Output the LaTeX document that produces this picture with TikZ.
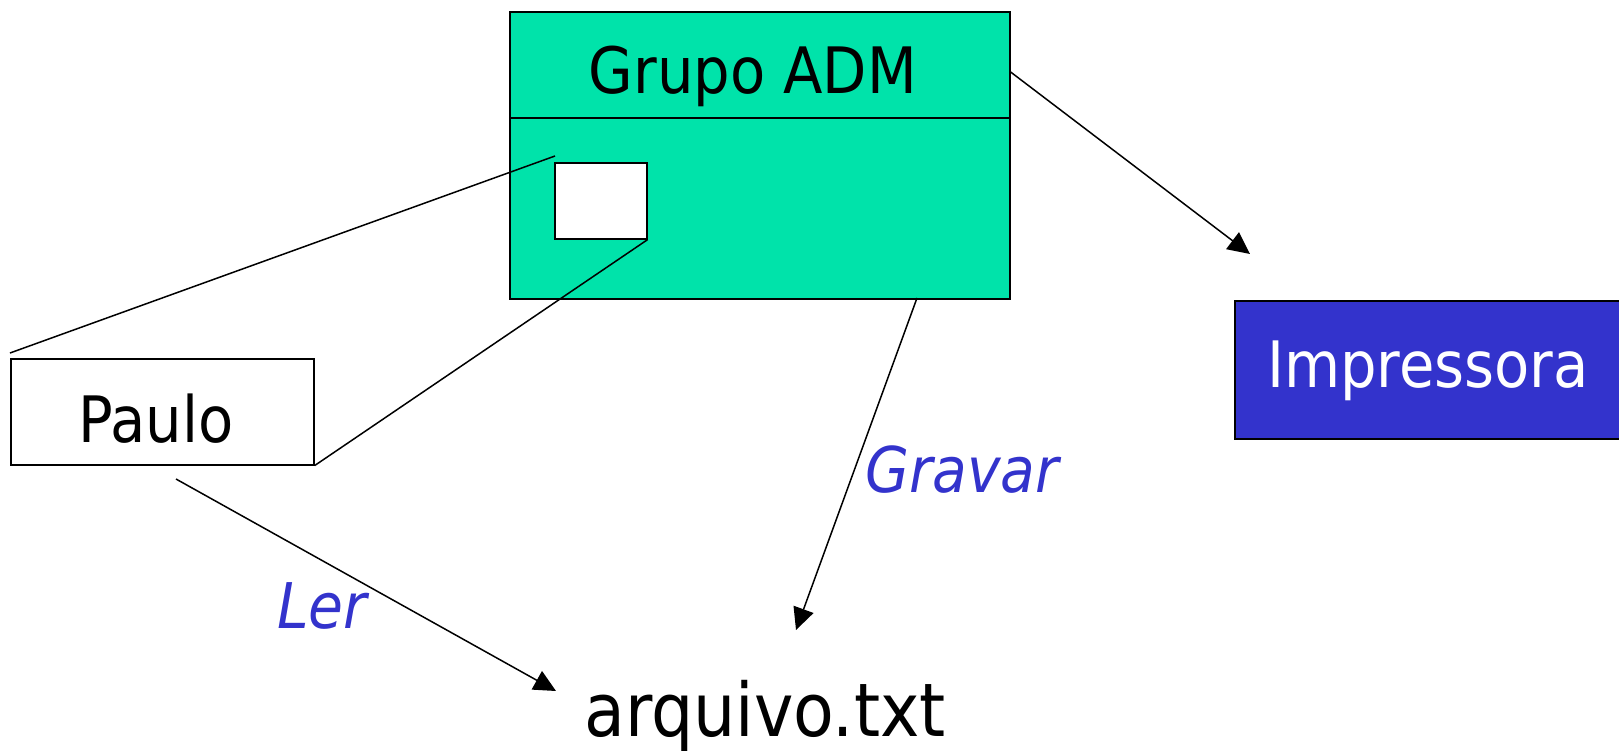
\documentclass[tikz,border=0pt]{standalone}
\usepackage{fontspec}
\setmainfont{DejaVu Sans Condensed}
\usetikzlibrary{arrows.meta}
\definecolor{admgreen}{RGB}{0,227,170}
\definecolor{prblue}{RGB}{51,51,204}
\tikzset{
  box/.style={draw=black, line width=1.6pt, inner sep=0pt, anchor=north west},
  txt/.style={inner sep=0pt, anchor=base, font=\fontsize{64}{70}\selectfont},
  lbl/.style={inner sep=0pt, anchor=base, text=prblue, font=\fontsize{63}{70}\selectfont\itshape},
  conn/.style={draw=black, line width=1.5pt},
  arr/.style={conn, -{Triangle[length=22pt,width=21pt]}}
}
\begin{document}
\begin{tikzpicture}[x=1pt,y=-1pt]
\useasboundingbox (0,0) rectangle (1619,751);
% boxes
\node[box, fill=admgreen, minimum width=500pt, minimum height=106pt] (head) at (509,11) {};
\node[box, fill=admgreen, minimum width=500pt, minimum height=181pt] (body) at (509,117) {};
\node[box, fill=white, minimum width=92pt, minimum height=76pt] (sq) at (554,162) {};
\node[box, fill=white, minimum width=303pt, minimum height=106pt] (paulo) at (10,358) {};
\node[box, fill=prblue, minimum width=385pt, minimum height=138pt] (impr) at (1234,300) {};
% texts
\node[txt] (headt) at (753,94) {Grupo ADM};
\node[txt] (paulot) at (156,442) {Paulo};
\node[txt, text=white] (imprt) at (1428,387) {Impressora};
\node[txt, font=\fontsize{74}{80}\selectfont] (arq) at (765,736) {arquivo.txt};
\node[lbl] (gravar) at (962,492) {Gravar};
\node[lbl] (ler) at (322,628) {Ler};
% zoom lines
\coordinate (p1) at (10,353);
\coordinate (s1) at (555,156);
\draw[conn] (p1) -- (s1);
\draw[conn] (paulo.south east) -- (sq.south east);
% arrows
\coordinate (impin) at (1250,254);
\coordinate (arqtop) at (796,630);
\coordinate (arqleft) at (556,691);
\coordinate (gstart) at (917,298);
\coordinate (lstart) at (176,479);
\draw[arr] (head.east |- 0,72) -- (impin);
\draw[arr] (gstart) -- (arqtop);
\draw[arr] (lstart) -- (arqleft);
\end{tikzpicture}
\end{document}
